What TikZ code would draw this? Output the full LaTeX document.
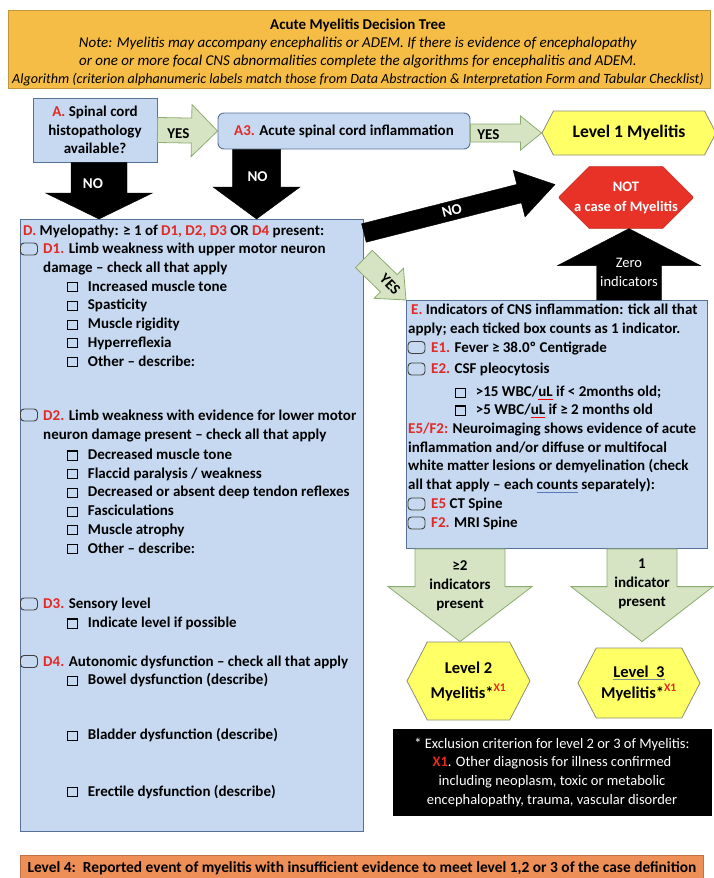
\documentclass[tikz,border=0pt]{standalone}
\usepackage{fontspec}
\setmainfont{Carlito}
\usepackage{tikz}
\usetikzlibrary{arrows,positioning,calc,shapes.symbols,shapes.misc}
\definecolor{titleorange}{RGB}{245,189,70}
\definecolor{titleline}{RGB}{196,150,60}
\definecolor{boxblue}{RGB}{198,217,240}
\definecolor{boxline}{RGB}{86,112,150}
\definecolor{argreen}{RGB}{214,228,196}
\definecolor{argreenline}{RGB}{140,172,112}
\definecolor{hexyellow}{RGB}{255,255,102}
\definecolor{hexline}{RGB}{140,140,120}
\definecolor{labred}{RGB}{228,40,36}
\definecolor{notred}{RGB}{232,50,40}
\definecolor{lvlorange}{RGB}{238,143,88}
\definecolor{ulblue}{RGB}{90,120,190}
\definecolor{ulgray}{RGB}{120,140,150}
\newcommand{\bodyfont}{\fontsize{15}{18.7}\selectfont\bfseries}
\newcommand{\lab}[1]{\textcolor{labred}{#1}}
\newcommand{\sqchk}{{\setlength{\fboxsep}{0pt}\setlength{\fboxrule}{1.1pt}\fbox{\rule{0pt}{8pt}\hspace{8.5pt}}}\hspace{10pt}}
\newcommand{\gul}[2]{{\setbox0\hbox{#2}\rlap{\textcolor{#1}{\rule[-2.8pt]{\wd0}{0.8pt}}}\box0}}
\newcommand{\blockarr}[6]{%
\coordinate (hb) at ($(#3)!#6!(#2)$);
\draw[#1] ($(#2)!#4!90:(#3)$) -- ($(hb)!#4!90:(#3)$) -- ($(hb)!#5!90:(#3)$) -- (#3)
 -- ($(hb)!#5!-90:(#3)$) -- ($(hb)!#4!-90:(#3)$) -- ($(#2)!#4!-90:(#3)$) -- cycle;}
\tikzstyle{titlebox}=[draw=titleline,fill=titleorange,line width=0.8pt,inner sep=0pt]
\tikzstyle{bluebox}=[draw=boxline,fill=boxblue,line width=0.9pt,inner sep=0pt]
\tikzstyle{txt}=[inner sep=0pt,anchor=base west,align=left,font=\bodyfont]
\tikzstyle{roundchk}=[draw=black!75,line width=0.9pt,rounded corners=3.5pt,minimum width=17pt,minimum height=12pt,inner sep=0pt]
\tikzstyle{noarr}=[fill=black,draw=black]
\tikzstyle{yesarr}=[fill=argreen,draw=argreenline,line width=0.8pt]
\tikzstyle{arrlab}=[inner sep=0pt,align=center,font=\bodyfont]
\tikzstyle{hexa}=[signal,signal to=west and east,signal pointer angle=125,draw=hexline,fill=hexyellow,line width=0.8pt,align=center,inner sep=0pt]
\tikzstyle{notbox}=[chamfered rectangle,chamfered rectangle xsep=15pt,chamfered rectangle ysep=15pt,draw=notred!80!black,fill=notred,text=white,align=center,inner sep=0pt,font=\fontsize{14.5}{20}\selectfont\bfseries]
\tikzstyle{exclbox}=[fill=black,draw=black,text=white,align=center,inner sep=0pt,font=\fontsize{14.5}{18.7}\selectfont]
\tikzstyle{lvl4box}=[draw=lvlorange!80!black,fill=lvlorange,line width=0.8pt,inner sep=0pt,font=\fontsize{15.4}{17}\selectfont\bfseries]
\begin{document}
\begin{tikzpicture}[x=1pt,y=-1pt]
\useasboundingbox (0,0) rectangle (713,878);
\node[titlebox,minimum width=702pt,minimum height=78pt] (title) at (359,49) {};
\node[inner sep=0pt,align=center,font=\fontsize{15}{18}\selectfont] (titletxt) at (358,52) {{\bfseries Acute Myelitis Decision Tree}\\\textit{Note: Myelitis may accompany encephalitis or ADEM. If there is evidence of encephalopathy}\\\textit{or one or more focal CNS abnormalities complete the algorithms for encephalitis and ADEM.}\\{\fontsize{14.1}{18}\selectfont\itshape Algorithm (criterion alphanumeric labels match those from Data Abstraction \& Interpretation Form and Tabular Checklist)}};

\node[bluebox,minimum width=124pt,minimum height=64pt,align=center,font=\bodyfont] (A) at (95,130) {\lab{A.} Spinal cord\\histopathology\\available?};
\node[bluebox,rounded corners=6pt,minimum width=252pt,minimum height=36pt,font=\bodyfont] (A3) at (344,131) {\lab{A3.} Acute spinal cord inflammation};
\node[hexa,minimum width=174pt,minimum height=44pt,font=\fontsize{17.6}{20}\selectfont\bfseries] (L1) at (629,133) {Level 1 Myelitis};
\node[notbox,minimum width=128pt,minimum height=61pt] (NOT) at (626,197.5) {NOT\\a case of Myelitis};
\node[bluebox,anchor=north west,minimum width=343pt,minimum height=612pt] (D) at (20,219) {};
\node[bluebox,anchor=north west,minimum width=301pt,minimum height=248pt] (E) at (406,300) {};
\node[hexa,minimum width=123pt,minimum height=78pt,font=\fontsize{16.5}{21}\selectfont\bfseries] (L2) at (468.5,681) {Level 2\\[4pt]Myelitis*\textsuperscript{\lab{X1}}};
\node[hexa,minimum width=122pt,minimum height=70pt,font=\fontsize{16.5}{21}\selectfont\bfseries] (L3) at (639,683) {\gul{ulgray}{Level\ \ 3}\\Myelitis*\textsuperscript{\lab{X1}}};
\node[exclbox,minimum width=318pt,minimum height=86pt] (X) at (552,772) {\raisebox{0pt}[11pt]{}* Exclusion criterion for level 2 or 3 of Myelitis:\\\textbf{\lab{X1}}. Other diagnosis for illness confirmed\\including neoplasm, toxic or metabolic\\encephalopathy, trauma, vascular disorder};
\node[lvl4box,anchor=north west,minimum width=683pt,minimum height=26pt] (L4) at (20,855) {Level 4:\ \ Reported event of myelitis with insufficient evidence to meet level 1,2 or 3 of the case definition};

\coordinate (aNo) at ($(A.south)+(4,0)$);
\blockarr{noarr}{aNo}{aNo |- D.north}{28pt}{53.5pt}{26pt}
\node[arrlab,text=white] (noA) at ($(aNo)+(-6,21)$) {NO};
\coordinate (a3No) at ($(A3.south west)+(39,0)$);
\blockarr{noarr}{a3No}{a3No |- D.north}{24pt}{43.5pt}{32pt}
\node[arrlab,text=white] (noA3) at ($(a3No)+(1,27)$) {NO};
\blockarr{yesarr}{A.east}{A3.west}{12.5pt}{26pt}{26pt}
\node[arrlab] (yesA) at ($(A.east)+(21,4)$) {YES};
\blockarr{yesarr}{A3.east |- L1.west}{L1.west}{9pt}{17pt}{21pt}
\node[arrlab] (yesA3) at ($(A3.east)+(18,4)$) {YES};
\coordinate (dNo) at ($(D.north east)+(0,14)$);
\coordinate (notIn) at ($(NOT.west)+(-4,-13)$);
\blockarr{noarr}{dNo}{notIn}{9.5pt}{24pt}{37pt}
\node[arrlab,text=white,rotate=14] (noD) at ($(dNo)!0.46!(notIn)$) {NO};
\coordinate (dYes) at ($(D.north east)+(0,40)$);
\blockarr{yesarr}{dYes}{E.north west}{12pt}{21pt}{24pt}
\node[arrlab,rotate=-46] (yesD) at ($(dYes)!0.62!(E.north west)$) {YES};
\coordinate (eZero) at ($(E.north west)+(223,0)$);
\blockarr{noarr}{eZero}{eZero |- NOT.south}{32.5pt}{71.5pt}{37pt}
\node[arrlab,text=white,font=\fontsize{14.5}{19}\selectfont] (zeroE) at ($(eZero)+(0,-27.5)$) {Zero\\indicators};
\coordinate (eTwo) at ($(E.south west)+(54,0)$);
\blockarr{yesarr}{eTwo}{eTwo |- L2.north}{45pt}{72pt}{55pt}
\node[arrlab] (twoE) at ($(eTwo)+(0,37)$) {≥2\\indicators\\present};
\coordinate (eOne) at ($(E.south west)+(236,0)$);
\blockarr{yesarr}{eOne}{eOne |- L2.north}{35pt}{71pt}{55pt}
\node[arrlab] (oneE) at ($(eOne)+(0,35)$) {1\\indicator\\present};

\node[txt] (dhead) at (23,235) {\lab{D.} Myelopathy: ≥ 1 of \lab{D1, D2, D3} OR \lab{D4} present:};
\node[roundchk] (c1) at (29,249) {};
\node[txt] (d1) at (43,272.5) {\lab{D1.} Limb weakness with upper motor neuron\\damage – check all that apply};
\node[txt] (d1list) at (67,366) {\sqchk Increased muscle tone\\\sqchk Spasticity\\\sqchk Muscle rigidity\\\sqchk Hyperreflexia\\\sqchk Other – describe:};
\node[roundchk] (c2) at (29,415) {};
\node[txt] (d2) at (43,439) {\lab{D2.} Limb weakness with evidence for lower motor\\neuron damage present – check all that apply};
\node[txt] (d2list) at (67,553) {\sqchk Decreased muscle tone\\\sqchk Flaccid paralysis / weakness\\\sqchk Decreased or absent deep tendon reflexes\\\sqchk Fasciculations\\\sqchk Muscle atrophy\\\sqchk Other – describe:};
\node[roundchk] (c3) at (29,604) {};
\node[txt] (d3) at (43,608.5) {\lab{D3.} Sensory level};
\node[txt] (d3list) at (67,627.5) {\sqchk Indicate level if possible};
\node[roundchk] (c4) at (29,661.5) {};
\node[txt] (d4) at (43,666) {\lab{D4.} Autonomic dysfunction – check all that apply};
\node[txt] (d4list) at (67,796) {\sqchk Bowel dysfunction (describe)\\[36.5pt]\sqchk Bladder dysfunction (describe)\\[37.5pt]\sqchk Erectile dysfunction (describe)};

\node[txt] (ehead) at (408,333.5) {\hspace*{3pt}\lab{E.} Indicators of CNS inflammation: tick all that\\apply; each ticked box counts as 1 indicator.};
\node[roundchk] (c5) at (416.5,347.5) {};
\node[txt] (e1) at (431,352.5) {\lab{E1.} Fever ≥ 38.0º Centigrade};
\node[roundchk] (c6) at (416.5,369) {};
\node[txt] (e2) at (431,373.5) {\lab{E2.} CSF pleocytosis};
\node[txt] (e2list) at (455,414.5) {\sqchk >15 WBC/\gul{red}{uL} if < 2months old;\\[-1pt]\sqchk >5 WBC/\gul{red}{uL} if ≥ 2 months old};
\node[txt] (e5f2) at (408,489.5) {\lab{E5/F2:} Neuroimaging shows evidence of acute\\inflammation and/or diffuse or multifocal\\white matter lesions or demyelination (check\\all that apply – each \gul{ulblue}{counts} separately):};
\node[roundchk] (c7) at (416.5,504) {};
\node[txt] (e5) at (431,508.5) {\lab{E5} CT Spine};
\node[roundchk] (c8) at (416.5,523) {};
\node[txt] (f2) at (431,527.5) {\lab{F2.} MRI Spine};
\end{tikzpicture}
\end{document}
